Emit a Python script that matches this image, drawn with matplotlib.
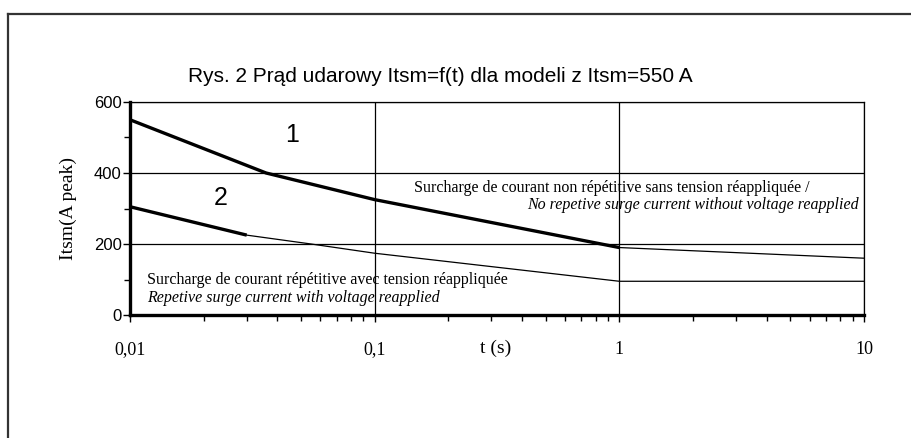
import matplotlib
matplotlib.use("Agg")
import matplotlib.pyplot as plt
from matplotlib.lines import Line2D
from matplotlib.ticker import FixedLocator, NullFormatter

# curve 1: non repetitive surge (thick up to 1 s, thin after)
t1_thick = [0.01, 0.036, 0.1, 1.0]
i1_thick = [550, 400, 325, 190]
t1_thin = [1.0, 10.0]
i1_thin = [190, 160]

# curve 2: repetitive surge
t2_thick = [0.01, 0.03]
i2_thick = [305, 225]
t2_thin = [0.03, 0.055, 0.1, 1.0, 10.0]
i2_thin = [225, 200, 174, 95, 95]

x_ticks = [0.01, 0.1, 1, 10]
x_labels = ["0,01", "0,1", "1", "10"]
y_ticks = [0, 200, 400, 600]
y_minor = [100, 300, 500]

title = "Rys. 2 Prąd udarowy Itsm=f(t) dla modeli z Itsm=550 A"

fig = plt.figure(figsize=(9.12, 4.38), dpi=100)
ax = fig.add_axes([130 / 912, 1 - 315 / 438, (864 - 130) / 912, (315 - 102) / 438])

ax.plot(t1_thick, i1_thick, color="black", lw=2.4, solid_capstyle="butt")
ax.plot(t1_thin, i1_thin, color="black", lw=0.9)
ax.plot(t2_thick, i2_thick, color="black", lw=2.4, solid_capstyle="butt")
ax.plot(t2_thin, i2_thin, color="black", lw=0.9)

ax.set_xscale("log")
ax.set_xlim(0.01, 10)
ax.set_ylim(0, 600)
ax.set_xticks(x_ticks)
ax.set_xticklabels(x_labels, family="Liberation Serif", fontsize=13)
ax.xaxis.set_minor_formatter(NullFormatter())
ax.set_yticks(y_ticks)
ax.yaxis.set_minor_locator(FixedLocator(y_minor))
for lab in ax.get_yticklabels():
    lab.set_family("Liberation Sans")
    lab.set_fontsize(12)

ax.grid(True, which="major", color="black", lw=0.9)
ax.tick_params(which="major", direction="out", length=5, width=1, pad=14)
ax.tick_params(axis="y", which="major", pad=1)
ax.tick_params(which="minor", direction="out", length=4, width=1)

for s in ["left", "bottom"]:
    ax.spines[s].set_linewidth(2.4)
for s in ["top", "right"]:
    ax.spines[s].set_linewidth(0.9)

ax.set_ylabel("Itsm(A peak)", family="Liberation Serif", fontsize=14, labelpad=12)

# curve numbers
ax.text(0.046, 506, "1", fontsize=18, family="Liberation Sans", ha="center", va="center")
ax.text(0.0234, 329, "2", fontsize=18, family="Liberation Sans", ha="center", va="center")

# annotations
ax.text(0.0117, 98, "Surcharge de courant répétitive avec tension réappliquée",
        family="Liberation Serif", fontsize=11.5, va="center")
ax.text(0.0117, 48, "Repetive surge current with voltage reapplied",
        family="Liberation Serif", fontsize=11.5, style="italic", va="center")
ax.text(0.145, 358, "Surcharge de courant non répétitive sans tension réappliquée /",
        family="Liberation Serif", fontsize=11.5, va="center")
ax.text(9.5, 310, "No repetive surge current without voltage reapplied",
        family="Liberation Serif", fontsize=11.5, style="italic", va="center", ha="right")

fig.text(440 / 912, 1 - 76 / 438, title, family="Liberation Sans", fontsize=15,
         ha="center", va="center")
fig.text(496 / 912, 1 - 348 / 438, "t (s)", family="Liberation Serif", fontsize=14,
         ha="center", va="center")

# outer frame (top and left edges)
fig.add_artist(Line2D([8 / 912, 1.0], [1 - 14 / 438, 1 - 14 / 438], color="#333333", lw=1.6))
fig.add_artist(Line2D([8 / 912, 8 / 912], [0.0, 1 - 14 / 438], color="#333333", lw=1.6))

fig.savefig("out.png", dpi=100)
